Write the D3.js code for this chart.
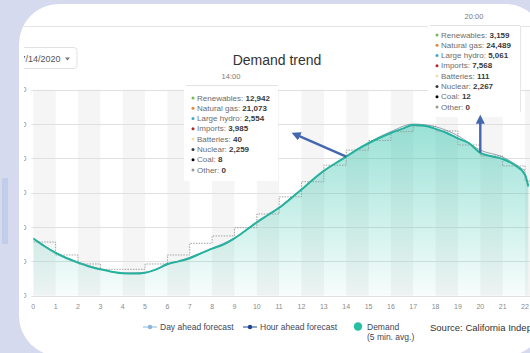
<!DOCTYPE html>
<html><head><meta charset="utf-8">
<script src="https://cdn.jsdelivr.net/npm/d3@7"></script>
<style>
html,body{margin:0;padding:0;background:#d5daef;}
svg{display:block;font-family:"Liberation Sans",Arial,sans-serif;}
</style></head><body>
<svg id="chart" width="530" height="353"></svg>
<script>
// ---- data ----
const hourTicks = [0,1,2,3,4,5,6,7,8,9,10,11,12,13,14,15,16,17,18,19,20,21,22,23];
const yTicks = [20000,25000,30000,35000,40000,45000,50000];

// Demand, 5 min. average (MW), sampled at the half hour
const demandHours = [0,0.5,1,1.5,2,2.5,3,3.5,4,4.5,5,5.5,6,6.5,7,7.5,8,8.5,9,9.5,10,10.5,11,11.5,12,12.5,13,13.5,14,14.5,15,15.5,16,16.5,17,17.5,18,18.5,19,19.5,20,20.5,21,21.5,22,22.15];
const demandValues = [28330,27200,26220,25450,24810,24250,23840,23500,23260,23220,23350,23840,24620,25000,25450,26170,26850,27450,28350,29500,30700,31750,32800,34100,35450,36900,38200,39250,40250,41300,42200,43000,43700,44300,44850,44750,44300,43700,42900,42200,40800,40300,39900,39100,37600,35900];

// Day ahead forecast, hourly blocks
const dayAheadHours = [0,1,2,3,4,5,6,7,8,9,10,11,12,13,14,15,16,17,18,19,20,21,22,23];
const dayAheadValues = [27820,25930,24620,23840,23840,24620,25930,27630,28700,29900,31900,34400,36600,39000,41200,42600,43900,44700,44000,41950,40350,38900,36700,35000];

// Hour ahead forecast
const hourAheadHours = [0,1,2,3,4,5,6,7,8,9,10,11,12,13,14,15,16,17,18,19,20,21,22];
const hourAheadValues = [28400,26300,24900,23900,23300,23400,24500,25600,26900,28400,30600,32900,35500,38100,40300,42300,43900,45000,44600,43300,41200,40200,38200];

// Supply mix shown in the hover boxes
const mixLabels = ["Renewables","Natural gas","Large hydro","Imports","Batteries","Nuclear","Coal","Other"];
const mixColors = ["#6fbf4a","#e2893a","#3ba9c9","#b3262e","#efe2a0","#3a3a3a","#000000","#9a9a9a"];
const mixAt14 = [12942,21073,2554,3985,40,2259,8,0];
const mixAt20 = [3159,24489,5061,7568,111,2267,12,0];

// ---- layout ----
const svg = d3.select("#chart");
const W = 530, H = 353;
const x = d3.scaleLinear().domain([0,24]).range([33.3, 569.7]);
const y = d3.scaleLinear().domain([20000,50000]).range([295.7, 89.7]);
const fmt = d3.format(",");

const defs = svg.append("defs");
defs.append("clipPath").attr("id","panelClip")
  .append("rect").attr("x",19).attr("y",4).attr("width",526).attr("height",352).attr("rx",40).attr("ry",40);
defs.append("clipPath").attr("id","shotClip")
  .append("rect").attr("x",24).attr("y",0).attr("width",540).attr("height",H);
defs.append("clipPath").attr("id","plotClip")
  .append("rect").attr("x",x(0)).attr("y",y(50000)).attr("width",x(24)-x(0)).attr("height",y(20000)-y(50000));
const grad = defs.append("linearGradient").attr("id","demandFill")
  .attr("gradientUnits","userSpaceOnUse").attr("x1",0).attr("x2",0).attr("y1",y(45000)).attr("y2",y(20000));
grad.append("stop").attr("offset","0%").attr("stop-color","#3cc6b0").attr("stop-opacity",0.52);
grad.append("stop").attr("offset","100%").attr("stop-color","#3cc6b0").attr("stop-opacity",0.04);
defs.append("marker").attr("id","arrowHead").attr("viewBox","0 0 10 10")
  .attr("refX",2).attr("refY",5).attr("markerWidth",9).attr("markerHeight",9)
  .attr("markerUnits","userSpaceOnUse").attr("orient","auto")
  .append("path").attr("d","M0,0 L10,5 L0,10 z").attr("fill","#4467ae");

// page backdrop
svg.append("rect").attr("width",W).attr("height",H).attr("fill","#d5daef");
svg.append("rect").attr("x",2).attr("y",178).attr("width",6).attr("height",66).attr("fill","#c2cdea");

const panel = svg.append("g").attr("clip-path","url(#panelClip)");
panel.append("rect").attr("x",19).attr("y",4).attr("width",526).attr("height",352).attr("fill","#ffffff");

const shot = panel.append("g").attr("clip-path","url(#shotClip)");

// header rule
shot.append("line").attr("x1",24).attr("x2",545).attr("y1",26.5).attr("y2",26.5)
  .attr("stroke","#e4e4e4").attr("stroke-width",1);

// date picker
shot.append("rect").attr("x",8).attr("y",47.5).attr("width",69).attr("height",21).attr("rx",3)
  .attr("fill","#fff").attr("stroke","#e2e2e2");
shot.append("text").attr("x",60.5).attr("y",61.5).attr("text-anchor","end")
  .attr("font-size",9).attr("fill","#555").text("7/14/2020");
shot.append("path").attr("d","M65,57.5 L70,57.5 L67.5,60.5 z").attr("fill","#777");

// title
shot.append("text").attr("x",277).attr("y",65).attr("text-anchor","middle")
  .attr("font-size",14).attr("fill","#333").text("Demand trend");

// ---- plot ----
const plot = shot.append("g");
// alternating hour bands
plot.append("g").selectAll("rect").data(hourTicks.filter(h => h % 2 === 0)).join("rect")
  .attr("x", d => x(d)).attr("width", d => x(d+1) - x(d))
  .attr("y", y(50000)).attr("height", y(20000) - y(50000))
  .attr("fill","#f5f5f5");
// horizontal grid
plot.append("g").selectAll("line").data(yTicks).join("line")
  .attr("x1", x(0) - 2).attr("x2", x(24))
  .attr("y1", d => Math.round(y(d)) + 0.5).attr("y2", d => Math.round(y(d)) + 0.5)
  .attr("stroke","#e0e0e0");
// y labels (mostly cut off at the left)
plot.append("g").selectAll("text").data(yTicks).join("text")
  .attr("x", 26.5).attr("y", d => y(d) + 2.5).attr("text-anchor","end")
  .attr("font-size",7.5).attr("fill","#8a8a8a").text(d => fmt(d));
// x labels
plot.append("g").selectAll("text").data(hourTicks).join("text")
  .attr("x", d => x(d)).attr("y", 308.5).attr("text-anchor","middle")
  .attr("font-size",7).attr("fill","#8a8a8a").text(d => d);

const series = plot.append("g").attr("clip-path","url(#plotClip)");
const demandPts = demandHours.map((h,i) => [h, demandValues[i]]);
const dayPts = dayAheadHours.map((h,i) => [h, dayAheadValues[i]]);
dayPts.push([24, dayAheadValues[dayAheadValues.length-1]]);
const hourPts = hourAheadHours.map((h,i) => [h, hourAheadValues[i]]);

series.append("path").datum(demandPts)
  .attr("d", d3.area().x(d => x(d[0])).y0(y(20000)).y1(d => y(d[1])).curve(d3.curveMonotoneX))
  .attr("fill","url(#demandFill)");
series.append("path").datum(dayPts)
  .attr("d", d3.line().x(d => x(d[0])).y(d => y(d[1])).curve(d3.curveStepAfter))
  .attr("fill","none").attr("stroke","#9a9a9a").attr("stroke-width",0.9).attr("stroke-dasharray","1.5,1.2");
series.append("path").datum(hourPts)
  .attr("d", d3.line().x(d => x(d[0])).y(d => y(d[1])).curve(d3.curveMonotoneX))
  .attr("fill","none").attr("stroke","#6f8896").attr("stroke-width",1).attr("stroke-opacity",0.75);
series.append("path").datum(demandPts)
  .attr("d", d3.line().x(d => x(d[0])).y(d => y(d[1])).curve(d3.curveMonotoneX))
  .attr("fill","none").attr("stroke","#25b19e").attr("stroke-width",2);

// ---- hover boxes ----
function mixBox(g, left, top, width, height, headY, rowTop, hour, values) {
  g.append("rect").attr("x",left).attr("y",top).attr("width",width).attr("height",height).attr("fill","#fff");
  g.append("text").attr("x", left + width/2).attr("y", headY).attr("text-anchor","middle")
    .attr("font-size",7.5).attr("fill","#7a7a7a").text(String(hour).padStart(2,"0") + ":00");
  g.append("line").attr("x1",left+2).attr("x2",left+width).attr("y1",headY+6.5).attr("y2",headY+6.5)
    .attr("stroke","#e2e2e2");
  const rows = g.append("g").selectAll("g").data(mixLabels).join("g")
    .attr("transform", (d,i) => `translate(${left+9},${rowTop + i*10.3})`);
  rows.append("circle").attr("r",1.5).attr("cy",-2.6).attr("fill",(d,i) => mixColors[i]);
  const t = rows.append("text").attr("x",4).attr("font-size",8).attr("fill","#6d6d6d");
  t.append("tspan").text(d => d + ": ");
  t.append("tspan").attr("font-weight","bold").attr("fill","#3a3a3a").text((d,i) => fmt(values[i]));
}
const tip14 = shot.append("g");
mixBox(tip14, 184, 68, 94, 113, 79, 100.5, 14, mixAt14);
const tip20 = shot.append("g");
mixBox(tip20, 428, 5, 92, 112, 19, 37.5, 20, mixAt20);
tip20.append("line").attr("x1",520.5).attr("x2",520.5).attr("y1",26).attr("y2",112).attr("stroke","#e6e6e6");

// ---- arrows from the curve to the boxes ----
const d14 = demandValues[demandHours.indexOf(14)];
const d20 = demandValues[demandHours.indexOf(20)];
shot.append("line").attr("x1",x(14)).attr("y1",y(d14)).attr("x2",x(14)-48).attr("y2",y(d14)-21)
  .attr("stroke","#4467ae").attr("stroke-width",2.4).attr("marker-end","url(#arrowHead)");
shot.append("line").attr("x1",x(20)).attr("y1",y(d20)).attr("x2",x(20)).attr("y2",y(d20)-31)
  .attr("stroke","#4467ae").attr("stroke-width",2.4).attr("marker-end","url(#arrowHead)");

// ---- legend ----
const lg = shot.append("g").attr("font-size",8.5).attr("fill","#3d4759");
function lineKey(cx, color, label) {
  lg.append("line").attr("x1",cx-7).attr("x2",cx+7).attr("y1",327).attr("y2",327).attr("stroke",color).attr("stroke-width",1);
  lg.append("circle").attr("cx",cx).attr("cy",327).attr("r",2.2).attr("fill",color);
  lg.append("text").attr("x",cx+10).attr("y",330).text(label);
}
lineKey(150, "#8bb6dd", "Day ahead forecast");
lineKey(250, "#1e4592", "Hour ahead forecast");
lg.append("circle").attr("cx",358).attr("cy",326.5).attr("r",4.2).attr("fill","#25bfa4");
lg.append("text").attr("x",367).attr("y",330).text("Demand");
lg.append("text").attr("x",367).attr("y",340).text("(5 min. avg.)");
shot.append("text").attr("x",430).attr("y",331).attr("font-size",9.5).attr("fill","#333")
  .text("Source: California Independent System Operator");
</script>
</body></html>
